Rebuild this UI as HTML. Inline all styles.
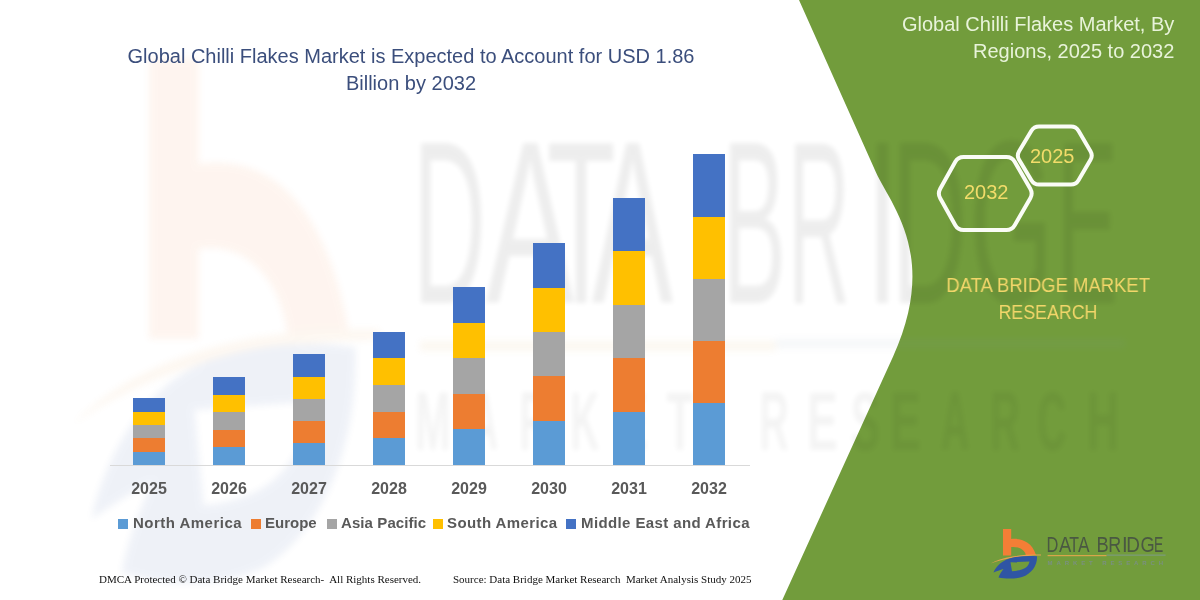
<!DOCTYPE html>
<html>
<head>
<meta charset="utf-8">
<style>
html,body{margin:0;padding:0;}
body{width:1200px;height:600px;position:relative;overflow:hidden;background:#fff;font-family:"Liberation Sans",sans-serif;}
.abs{position:absolute;white-space:nowrap;}
.title,.yr,.lg,div.abs{will-change:transform;}
.bar{position:absolute;width:32px;bottom:135px;display:flex;flex-direction:column;}
.bar div{flex:1 1 0;}
.c1{background:#4472C4;}
.c2{background:#FFC000;}
.c3{background:#A5A5A5;}
.c4{background:#ED7D31;}
.c5{background:#5B9BD5;}
.yr{position:absolute;top:479px;width:60px;text-align:center;font-weight:bold;font-size:16px;line-height:20px;color:#595959;}
.lg{position:absolute;top:513px;font-weight:bold;font-size:15px;line-height:20px;color:#595959;white-space:nowrap;}
.sq{position:absolute;top:519px;width:10px;height:10px;}
.title{position:absolute;left:0;width:822px;text-align:center;font-size:20px;line-height:27px;color:#3B4E7C;}
</style>
</head>
<body>
<!-- green panel -->
<svg class="abs" style="left:0;top:0" width="1200" height="600" viewBox="0 0 1200 600">
  <path id="gp" d="M799,0 L1200,0 L1200,600 L782.3,600 L893.1,356.4 C939.2,255.3 890.3,204.3 875.8,171.9 Z" fill="#729C3C"/>
</svg>

<!-- watermark -->
<svg class="abs" style="left:0;top:0;filter:blur(3.5px);opacity:0.075" width="1200" height="600" viewBox="0 0 1200 600">
  <g transform="matrix(6.07,0,0,10.6,-5939.2,-5549.2)">
  <path d="M1003,529 L1011.2,529 L1011.2,539 C1020,538.2 1031.5,540.5 1036,555 L1025.8,555 C1024.5,549.5 1018.5,546.3 1011.2,547 L1011.2,555.5 L1003,555.5 Z" fill="#F47E36"/>
  <path d="M990.5,563.5 C1001,557.5 1018,554.3 1041,554.6 L1041,555.6 C1020,555.6 1003,558.5 990.5,563.5 Z" fill="#E8A050"/>
  <path fill-rule="evenodd" fill="#2F55A4" d="M993.5,572.5 C996,566 1003,559.5 1013,557.5 C1021,556 1030,555.6 1037,556.3 C1037.5,565 1032,573.5 1022,577 C1014,579.2 1005,578.8 998.5,577.5 C999.5,574.5 1001.5,571.5 1003.5,569 C1000,570 996.5,571.3 993.5,572.5 Z M1010.5,562.2 L1029.5,561.4 C1028.5,566.5 1024.5,570.5 1012,571.2 Z"/>
  </g>
  <rect x="420" y="341" width="356" height="10" fill="#D8A54A"/>
  <rect x="776" y="339" width="350" height="9" fill="#7E9AB0"/>
</svg>
<svg class="abs" style="left:0;top:0;filter:blur(2.5px);opacity:0.065" width="1200" height="600" viewBox="0 0 1200 600">
<g font-family="Liberation Sans" fill="#000" font-size="232.6">
<text transform="translate(412.69,303) scale(0.436,1)">D</text>
<text transform="translate(485.74,303) scale(0.571,1)">A</text>
<text transform="translate(546.46,303) scale(0.487,1)">T</text>
<text transform="translate(591.76,303) scale(0.525,1)">A</text>
<text transform="translate(722.14,303) scale(0.412,1)">B</text>
<text transform="translate(787.95,303) scale(0.369,1)">R</text>
<text transform="translate(866.12,303) scale(0.507,1)">I</text>
<text transform="translate(891.41,303) scale(0.450,1)">D</text>
<text transform="translate(969.61,303) scale(0.461,1)">G</text>
<text transform="translate(1056.43,303) scale(0.397,1)">E</text>
</g>
<g font-family="Liberation Sans" fill="#000" opacity="0.65">
<text transform="translate(415.1,450) scale(0.517,1)" font-size="83" font-weight="bold">M</text>
<text transform="translate(470.0,450) scale(0.467,1)" font-size="83" font-weight="bold">A</text>
<text transform="translate(519.3,450) scale(0.493,1)" font-size="83" font-weight="bold">R</text>
<text transform="translate(570.3,450) scale(0.485,1)" font-size="83" font-weight="bold">K</text>
<text transform="translate(616.9,450) scale(0.558,1)" font-size="83" font-weight="bold">E</text>
<text transform="translate(666.5,450) scale(0.532,1)" font-size="83" font-weight="bold">T</text>
<text transform="translate(759.3,450) scale(0.493,1)" font-size="83" font-weight="bold">R</text>
<text transform="translate(806.9,450) scale(0.558,1)" font-size="83" font-weight="bold">E</text>
<text transform="translate(850.7,450) scale(0.523,1)" font-size="83" font-weight="bold">S</text>
<text transform="translate(889.9,450) scale(0.558,1)" font-size="83" font-weight="bold">E</text>
<text transform="translate(941.0,450) scale(0.467,1)" font-size="83" font-weight="bold">A</text>
<text transform="translate(990.3,450) scale(0.493,1)" font-size="83" font-weight="bold">R</text>
<text transform="translate(1037.4,450) scale(0.479,1)" font-size="83" font-weight="bold">C</text>
<text transform="translate(1087.0,450) scale(0.533,1)" font-size="83" font-weight="bold">H</text>
</g>
</svg>

<!-- title -->
<div class="title" id="t1" style="top:43.2px;">Global Chilli Flakes Market is Expected to Account for USD 1.86<br>Billion by 2032</div>

<!-- axis -->
<div class="abs" style="left:110px;top:465px;width:640px;height:1px;background:#D9D9D9;"></div>

<!-- bars -->
<div class="bar" style="left:133px;height:66.6px;"><div class="c1"></div><div class="c2"></div><div class="c3"></div><div class="c4"></div><div class="c5"></div></div>
<div class="bar" style="left:213px;height:88px;"><div class="c1"></div><div class="c2"></div><div class="c3"></div><div class="c4"></div><div class="c5"></div></div>
<div class="bar" style="left:293px;height:110.6px;"><div class="c1"></div><div class="c2"></div><div class="c3"></div><div class="c4"></div><div class="c5"></div></div>
<div class="bar" style="left:373px;height:133.2px;"><div class="c1"></div><div class="c2"></div><div class="c3"></div><div class="c4"></div><div class="c5"></div></div>
<div class="bar" style="left:453px;height:178px;"><div class="c1"></div><div class="c2"></div><div class="c3"></div><div class="c4"></div><div class="c5"></div></div>
<div class="bar" style="left:533px;height:221.8px;"><div class="c1"></div><div class="c2"></div><div class="c3"></div><div class="c4"></div><div class="c5"></div></div>
<div class="bar" style="left:613px;height:267px;"><div class="c1"></div><div class="c2"></div><div class="c3"></div><div class="c4"></div><div class="c5"></div></div>
<div class="bar" style="left:693px;height:310.6px;"><div class="c1"></div><div class="c2"></div><div class="c3"></div><div class="c4"></div><div class="c5"></div></div>

<!-- year labels -->
<div class="yr" id="y0" style="left:119px;">2025</div>
<div class="yr" style="left:199px;">2026</div>
<div class="yr" style="left:279px;">2027</div>
<div class="yr" style="left:359px;">2028</div>
<div class="yr" style="left:439px;">2029</div>
<div class="yr" style="left:519px;">2030</div>
<div class="yr" style="left:599px;">2031</div>
<div class="yr" style="left:679px;">2032</div>

<!-- legend -->
<div class="sq c5" style="left:118px;"></div><div class="lg" id="l0" style="left:133px;letter-spacing:0.48px;">North America</div>
<div class="sq c4" style="left:251px;"></div><div class="lg" id="l1" style="left:265px;">Europe</div>
<div class="sq c3" style="left:326.5px;"></div><div class="lg" id="l2" style="left:341px;letter-spacing:0.09px;">Asia Pacific</div>
<div class="sq c2" style="left:433px;"></div><div class="lg" id="l3" style="left:447px;letter-spacing:0.4px;">South America</div>
<div class="sq c1" style="left:566.3px;"></div><div class="lg" id="l4" style="left:581px;letter-spacing:0.39px;">Middle East and Africa</div>

<!-- footer -->
<div class="abs" id="f1" style="left:99px;top:571.5px;font-family:'Liberation Serif',serif;font-size:11px;line-height:14px;color:#111;">DMCA Protected &copy; Data Bridge Market Research-&nbsp; All Rights Reserved.</div>
<div class="abs" id="f2" style="left:453px;top:571.5px;font-family:'Liberation Serif',serif;font-size:11px;line-height:14px;color:#111;">Source: Data Bridge Market Research&nbsp; Market Analysis Study 2025</div>

<!-- right panel text -->
<div class="abs" id="rt" style="right:26px;top:11.4px;text-align:right;font-size:20px;line-height:27px;color:#E8F3DA;">Global Chilli Flakes Market, By<br>Regions, 2025 to 2032</div>

<!-- hexagons -->
<svg class="abs" style="left:0;top:0" width="1200" height="600" viewBox="0 0 1200 600">
  <path d="M955.3,161.8 Q958.0,157.0 963.5,157.0 L1006.5,157.0 Q1012.0,157.0 1014.7,161.8 L1030.3,188.7 Q1033.0,193.5 1030.3,198.3 L1014.7,225.2 Q1012.0,230.0 1006.5,230.0 L963.5,230.0 Q958.0,230.0 955.3,225.2 L940.2,198.3 Q937.5,193.5 940.2,188.7 Z" fill="none" stroke="#FAFCF6" stroke-width="4"/>
  <path d="M1031.4,130.8 Q1034.0,126.5 1039.0,126.5 L1071.0,126.5 Q1076.0,126.5 1078.5,130.8 L1090.5,151.2 Q1093.0,155.5 1090.5,159.8 L1078.5,180.2 Q1076.0,184.5 1071.0,184.5 L1039.0,184.5 Q1034.0,184.5 1031.4,180.2 L1019.1,159.8 Q1016.5,155.5 1019.1,151.2 Z" fill="none" stroke="#FAFCF6" stroke-width="4"/>
</svg>
<div class="abs" id="h1" style="left:964px;top:180px;font-size:20px;line-height:24px;color:#F2DC6A;">2032</div>
<div class="abs" id="h2" style="left:1030px;top:144px;font-size:20px;line-height:24px;color:#F2DC6A;">2025</div>

<div class="abs" id="dbm1" style="left:938px;top:273px;width:220px;text-align:center;font-size:20px;line-height:24px;color:#F2D66A;transform:scaleX(0.924);">DATA BRIDGE MARKET</div>
<div class="abs" id="dbm2" style="left:938px;top:299.5px;width:220px;text-align:center;font-size:20px;line-height:24px;color:#F2D66A;transform:scaleX(0.89);">RESEARCH</div>

<!-- logo -->
<svg class="abs" style="left:0;top:0" width="1200" height="600" viewBox="0 0 1200 600">
 <g>
  <path d="M1003,529 L1011.2,529 L1011.2,539 C1020,538.2 1031.5,540.5 1036,555 L1025.8,555 C1024.5,549.5 1018.5,546.3 1011.2,547 L1011.2,555.5 L1003,555.5 Z" fill="#F47E36"/>
  <path d="M990.5,563.5 C1001,557.5 1018,554.3 1041,554.6 L1041,555.6 C1020,555.6 1003,558.5 990.5,563.5 Z" fill="#E8A050"/>
  <path fill-rule="evenodd" fill="#2F55A4" d="M993.5,572.5 C996,566 1003,559.5 1013,557.5 C1021,556 1030,555.6 1037,556.3 C1037.5,565 1032,573.5 1022,577 C1014,579.2 1005,578.8 998.5,577.5 C999.5,574.5 1001.5,571.5 1003.5,569 C1000,570 996.5,571.3 993.5,572.5 Z M1010.5,562.2 L1029.5,561.4 C1028.5,566.5 1024.5,570.5 1012,571.2 Z"/>
 </g>
  <rect x="1047.6" y="555" width="59" height="1.2" fill="#D8A54A"/>
  <rect x="1106.6" y="554.6" width="59" height="1" fill="#7E9A8A"/>
  <g font-family="Liberation Sans" font-size="22.67" fill="#4A5842">
<text transform="translate(1046.40,552.3) scale(0.726,1)">D</text>
<text transform="translate(1058.96,552.3) scale(0.815,1)">A</text>
<text transform="translate(1069.14,552.3) scale(0.702,1)">T</text>
<text transform="translate(1077.97,552.3) scale(0.765,1)">A</text>
<text transform="translate(1096.50,552.3) scale(0.808,1)">B</text>
<text transform="translate(1108.13,552.3) scale(0.791,1)">R</text>
<text transform="translate(1121.90,552.3) scale(0.900,1)">I</text>
<text transform="translate(1126.19,552.3) scale(0.838,1)">D</text>
<text transform="translate(1140.58,552.3) scale(0.804,1)">G</text>
<text transform="translate(1154.11,552.3) scale(0.610,1)">E</text>
  </g>
  <text x="1047.6" y="565.3" font-family="Liberation Sans" font-size="6" font-weight="bold" fill="#7A9080" textLength="115.5" lengthAdjust="spacing">MARKET  RESEARCH</text>
</svg>

</body>
</html>
